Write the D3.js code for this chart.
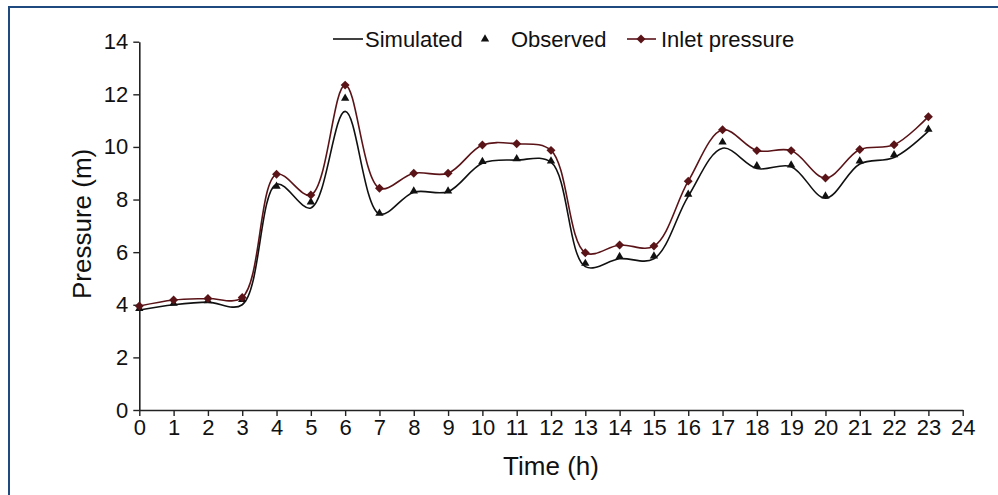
<!DOCTYPE html>
<html>
<head>
<meta charset="utf-8">
<script src="https://cdn.jsdelivr.net/npm/d3@7/dist/d3.min.js"></script>
<style>
  html, body { margin: 0; padding: 0; background: #fff; }
  svg { display: block; }
  text { font-family: "Liberation Sans", Arial, sans-serif; fill: #111; }
</style>
</head>
<body>
<svg id="chart" width="998" height="495"></svg>
<script>
// ---- data ----
const hours = [0,1,2,3,4,5,6,7,8,9,10,11,12,13,14,15,16,17,18,19,20,21,22,23];
const simulated = [3.8,4.0,4.1,4.0,8.58,7.68,11.35,7.45,8.28,8.3,9.38,9.5,9.42,5.45,5.75,5.75,8.12,9.95,9.18,9.25,8.05,9.35,9.6,10.6];
const observed  = [3.85,4.05,4.15,4.2,8.5,7.9,11.85,7.48,8.32,8.32,9.44,9.55,9.46,5.57,5.83,5.85,8.2,10.18,9.28,9.31,8.13,9.46,9.7,10.67];
const inlet     = [3.95,4.18,4.24,4.28,8.96,8.17,12.35,8.43,9.0,9.0,10.07,10.12,9.87,5.98,6.27,6.23,8.7,10.65,9.86,9.86,8.82,9.9,10.08,11.15];
const xTicks = d3.range(0, 25, 1);
const yTicks = [0,2,4,6,8,10,12,14];
const seriesNames = ["Simulated", "Observed", "Inlet pressure"];
const xTitle = "Time (h)";
const yTitle = "Pressure (m)";

// ---- layout ----
const svg = d3.select("#chart");
const x = d3.scaleLinear().domain([0, 24]).range([139.3, 962.7]);
const y = d3.scaleLinear().domain([0, 14]).range([410, 41.7]);
const inletColor = "#5a1418";

// frame (blue top and left borders)
svg.append("line").attr("x1", 8).attr("x2", 998).attr("y1", 7).attr("y2", 7)
  .attr("stroke", "#1f4a80").attr("stroke-width", 2);
svg.append("line").attr("x1", 9).attr("x2", 9).attr("y1", 6).attr("y2", 495)
  .attr("stroke", "#1f4a80").attr("stroke-width", 2);

// axes
const xAxis = d3.axisBottom(x).tickValues(xTicks).tickFormat(d3.format("d")).tickSizeInner(6).tickSizeOuter(0).tickPadding(3);
const yAxis = d3.axisLeft(y).tickValues(yTicks).tickFormat(d3.format("d")).tickSizeInner(6).tickSizeOuter(0).tickPadding(5);

const gx = svg.append("g").attr("transform", `translate(0,${y(0)})`).call(xAxis);
const gy = svg.append("g").attr("transform", `translate(${x(0)},0)`).call(yAxis);
[gx, gy].forEach(g => {
  g.select(".domain").attr("stroke", "#222").attr("stroke-width", 1.6);
  g.selectAll(".tick line").attr("stroke", "#222").attr("stroke-width", 1.4);
  g.selectAll(".tick text").attr("font-size", 22).attr("fill", "#111")
    .attr("font-family", "Liberation Sans, Arial, sans-serif");
});
gx.selectAll(".tick text").attr("dy", "0.74em");

// axis titles
svg.append("text").attr("x", x(12)).attr("y", 475).attr("text-anchor", "middle")
  .attr("font-size", 26).text(xTitle);
svg.append("text").attr("transform", `translate(91,${(y(0)+y(14))/2 - 2}) rotate(-90)`)
  .attr("text-anchor", "middle").attr("font-size", 26).text(yTitle);

// lines
const curve = d3.curveCatmullRom.alpha(0.5);
const lineGen = d3.line().x((d, i) => x(hours[i])).y(d => y(d)).curve(curve);

svg.append("path").datum(inlet).attr("d", lineGen)
  .attr("fill", "none").attr("stroke", inletColor).attr("stroke-width", 1.6);
svg.append("path").datum(simulated).attr("d", lineGen)
  .attr("fill", "none").attr("stroke", "#111").attr("stroke-width", 1.6);

// markers
const triangle = d3.symbol().type(d3.symbolTriangle).size(30);
const diamond = d3.symbol().type(d3.symbolSquare).size(40);

svg.append("g").selectAll("path").data(observed).join("path")
  .attr("d", triangle)
  .attr("transform", (d, i) => `translate(${x(hours[i])},${y(d)})`)
  .attr("fill", "#111");

svg.append("g").selectAll("path").data(inlet).join("path")
  .attr("d", diamond)
  .attr("transform", (d, i) => `translate(${x(hours[i])},${y(d)}) rotate(45)`)
  .attr("fill", inletColor);

// legend
const ly = 39;
const leg = svg.append("g");
leg.append("line").attr("x1", 333).attr("x2", 363).attr("y1", ly).attr("y2", ly)
  .attr("stroke", "#111").attr("stroke-width", 1.6);
leg.append("text").attr("x", 365).attr("y", ly + 8).attr("font-size", 22).text(seriesNames[0]);
leg.append("path").attr("d", triangle).attr("transform", `translate(485,${ly})`).attr("fill", "#111");
leg.append("text").attr("x", 511).attr("y", ly + 8).attr("font-size", 22).text(seriesNames[1]);
leg.append("line").attr("x1", 627).attr("x2", 656).attr("y1", ly).attr("y2", ly)
  .attr("stroke", inletColor).attr("stroke-width", 1.6);
leg.append("path").attr("d", diamond).attr("transform", `translate(641,${ly}) rotate(45)`).attr("fill", inletColor);
leg.append("text").attr("x", 661).attr("y", ly + 8).attr("font-size", 22).text(seriesNames[2]);
</script>
</body>
</html>
